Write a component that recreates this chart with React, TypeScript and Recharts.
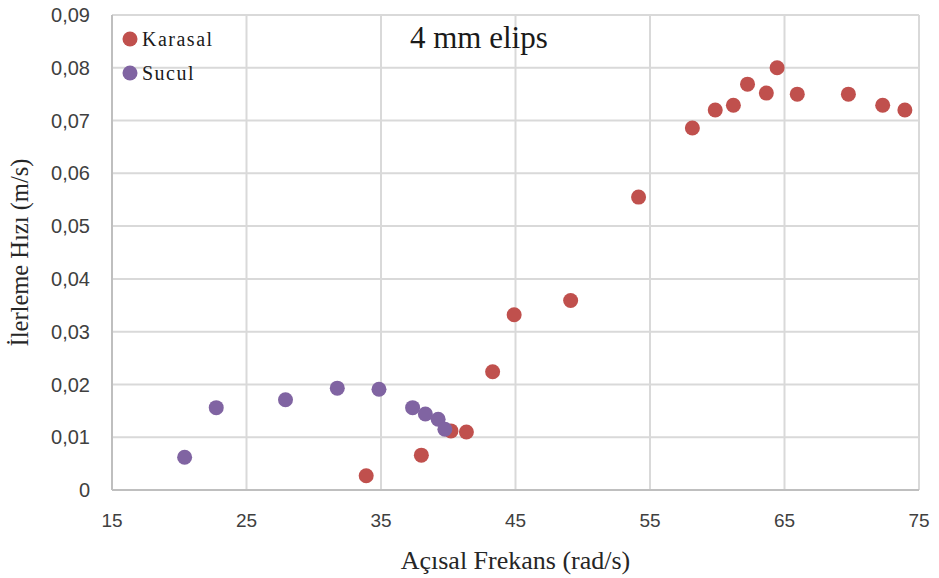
import { ScatterChart, Scatter, XAxis, YAxis, CartesianGrid } from "recharts";

const karasalX = [33.9, 38.0, 40.2, 41.35, 43.3, 44.9, 49.1, 54.15, 58.15, 59.85, 61.2, 62.25, 63.65, 64.45, 65.95, 69.75, 72.3, 73.95];
const karasalY = [0.0027, 0.0066, 0.0112, 0.011, 0.0224, 0.0332, 0.0359, 0.0555, 0.0686, 0.072, 0.0729, 0.0769, 0.0752, 0.08, 0.075, 0.075, 0.0729, 0.072];

const suculX = [20.4, 22.75, 27.9, 31.75, 34.85, 37.35, 38.3, 39.25, 39.75];
const suculY = [0.0062, 0.0156, 0.0171, 0.0193, 0.0191, 0.0156, 0.0144, 0.0134, 0.0115];

const xTicks = [15, 25, 35, 45, 55, 65, 75];
const yTicks = [0, 0.01, 0.02, 0.03, 0.04, 0.05, 0.06, 0.07, 0.08, 0.09];

const series = [
  { name: "Karasal", color: "#C0504D", xs: karasalX, ys: karasalY },
  { name: "Sucul", color: "#8064A2", xs: suculX, ys: suculY },
];

const toPoints = (xs: number[], ys: number[]) => xs.map((x, i) => ({ x, y: ys[i] }));

const fmtY = (v: number) => (v === 0 ? "0" : v.toFixed(2).replace(".", ","));

const serif = "'Liberation Serif', 'Times New Roman', serif";
const sans = "'Liberation Sans', Arial, sans-serif";

function Dot(color: string) {
  return (props: any) => <circle cx={props.cx} cy={props.cy} r={7.5} fill={color} />;
}

// legend sits inside the plot, top-left corner
function LegendBox() {
  return (
    <div style={{ position: "absolute", left: 122, top: 22, fontFamily: serif, fontSize: 20, color: "#1a1a1a" }}>
      {series.map((s) => (
        <div key={s.name} style={{ display: "flex", alignItems: "center", height: 34, letterSpacing: 1.5 }}>
          <svg width={16} height={16} style={{ marginRight: 4 }}>
            <circle cx={8} cy={8} r={7.5} fill={s.color} />
          </svg>
          {s.name}
        </div>
      ))}
    </div>
  );
}

export default function App() {
  return (
    <div style={{ position: "absolute", left: 0, top: 0, width: 939, height: 578, background: "#fff" }}>
      <ScatterChart width={939} height={578} margin={{ top: 15, right: 20, left: 0, bottom: 0 }}>
        <CartesianGrid stroke="#d9d9d9" strokeWidth={2} />
        <XAxis
          type="number"
          dataKey="x"
          domain={[15, 75]}
          ticks={xTicks}
          height={88}
          tickLine={false}
          tickSize={0}
          tickMargin={24}
          axisLine={{ stroke: "#bfbfbf", strokeWidth: 2 }}
          tick={{ fontFamily: sans, fontSize: 19, fill: "#404040" }}
          label={{
            value: "Açısal Frekans (rad/s)",
            position: "insideBottom",
            offset: 9,
            style: { fontFamily: serif, fontSize: 26, fill: "#262626" },
          }}
        />
        <YAxis
          type="number"
          dataKey="y"
          domain={[0, 0.09]}
          ticks={yTicks}
          width={112}
          tickLine={false}
          tickSize={0}
          tickMargin={22}
          tickFormatter={fmtY}
          axisLine={{ stroke: "#bfbfbf", strokeWidth: 2 }}
          tick={{ fontFamily: sans, fontSize: 20, fill: "#404040" }}
          label={{
            value: "İlerleme Hızı (m/s)",
            angle: -90,
            position: "insideLeft",
            offset: 19,
            style: { fontFamily: serif, fontSize: 24.5, fill: "#262626", textAnchor: "middle" },
          }}
        />
        {series.map((s) => (
          <Scatter
            key={s.name}
            name={s.name}
            data={toPoints(s.xs, s.ys)}
            fill={s.color}
            shape={Dot(s.color)}
            isAnimationActive={false}
          />
        ))}
      </ScatterChart>
      <LegendBox />
      <div
        style={{
          position: "absolute",
          left: 410,
          top: 20,
          fontFamily: serif,
          fontSize: 31,
          color: "#1a1a1a",
          whiteSpace: "nowrap",
        }}
      >
        4 mm elips
      </div>
    </div>
  );
}
